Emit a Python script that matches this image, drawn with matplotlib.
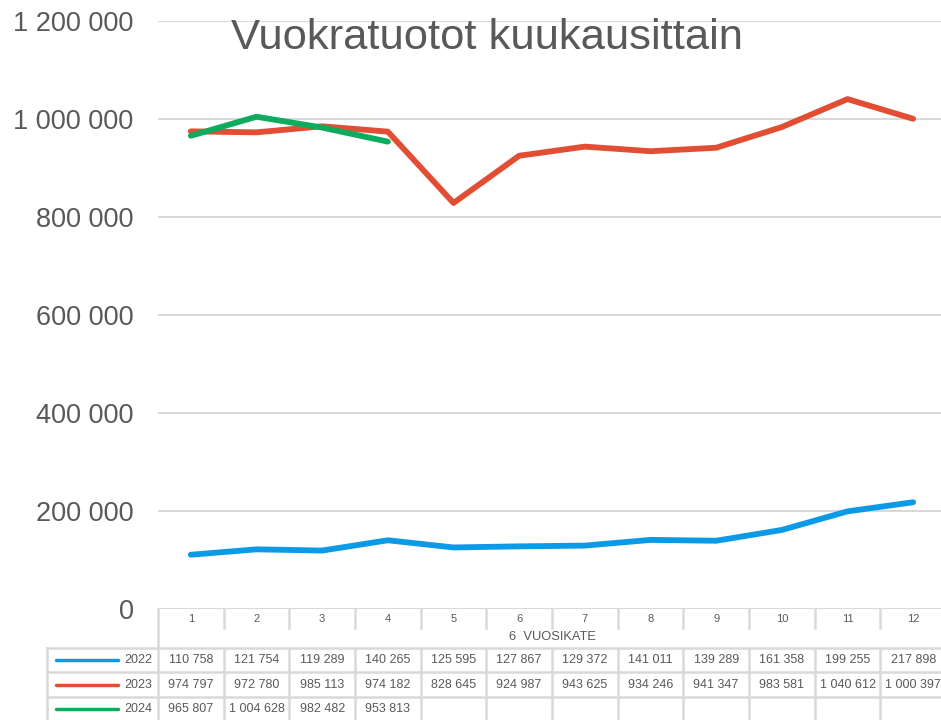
import matplotlib.pyplot as plt
from matplotlib.ticker import FuncFormatter

months = [1, 2, 3, 4, 5, 6, 7, 8, 9, 10, 11, 12]
rent_2022 = [110758, 121754, 119289, 140265, 125595, 127867, 129372, 141011, 139289, 161358, 199255, 217898]
rent_2023 = [974797, 972780, 985113, 974182, 828645, 924987, 943625, 934246, 941347, 983581, 1040612, 1000397]
rent_2024 = [965807, 1004628, 982482, 953813]
series_names = ['2022', '2023', '2024']
colors = ['#0A9AE6', '#E24E33', '#0DAB5D']

plt.rcParams['font.family'] = ['Liberation Sans', 'DejaVu Sans']
gray = '#595959'
grid_c = '#D9D9D9'

W, H = 941, 720
fig = plt.figure(figsize=(W / 100, H / 100), dpi=100)

# plot area in pixels (right edge runs past the picture like the original)
px_left, px_right, px_top, px_bottom = 158, 946, 21, 609
ax = fig.add_axes([px_left / W, 1 - px_bottom / H, (px_right - px_left) / W, (px_bottom - px_top) / H])
ax.set_xlim(0.5, 12.5)
ax.set_ylim(0, 1200000)
ax.set_yticks(range(0, 1200001, 200000))
ax.yaxis.set_major_formatter(FuncFormatter(lambda v, p: f'{int(v):,}'.replace(',', ' ')))
ax.tick_params(axis='y', length=0, labelsize=19.5, labelcolor=gray, pad=17.5)
ax.set_xticks([])
for s in ax.spines.values():
    s.set_visible(False)
ax.grid(axis='y', color=grid_c, linewidth=1.5)
ax.set_axisbelow(True)

all_series = [rent_2022, rent_2023, rent_2024]
for vals, c in zip(all_series, colors):
    ax.plot(months[:len(vals)], vals, color=c, linewidth=4.2, solid_capstyle='round', solid_joinstyle='round')

fig.text(487 / W, 1 - 38 / H, 'Vuokratuotot kuukausittain', fontsize=31.3, color=gray, ha='center', va='center')

# data table drawn in pixel coordinates
tab = fig.add_axes([0, 0, 1, 1])
tab.set_xlim(0, W)
tab.set_ylim(H, 0)
tab.axis('off')
col_w = (px_right - px_left) / 12
edges = [px_left + k * col_w for k in range(13)]
row_lines = [648, 672, 697, 721]
lw = 1.8

for e in edges[1:]:
    tab.plot([e, e], [609, 628], color=grid_c, lw=lw)
    tab.plot([e, e], [648, 720], color=grid_c, lw=lw)
tab.plot([px_left, px_left], [609, 720], color=grid_c, lw=lw)
tab.plot([47, 47], [648, 720], color=grid_c, lw=lw)
for y in row_lines[:3]:
    tab.plot([47, W], [y, y], color=grid_c, lw=lw)

for m, e in zip(months, edges):
    tab.text(e + col_w / 2, 619, str(m), fontsize=8, color=gray, ha='center', va='center')
tab.text((px_left + px_right) / 2, 637, '6  VUOSIKATE', fontsize=9.3, color=gray, ha='center', va='center')

for r, (name, vals, c) in enumerate(zip(series_names, all_series, colors)):
    yc = (row_lines[r] + row_lines[r + 1]) / 2
    tab.plot([56, 118], [yc, yc], color=c, lw=2.5, solid_capstyle='round')
    tab.text(152, yc, name, fontsize=9, color=gray, ha='right', va='center')
    for k, v in enumerate(vals):
        tab.text(edges[k] + col_w / 2, yc, f'{v:,}'.replace(',', ' '), fontsize=9, color=gray,
                 ha='center', va='center')

fig.savefig('out.png', dpi=100)
